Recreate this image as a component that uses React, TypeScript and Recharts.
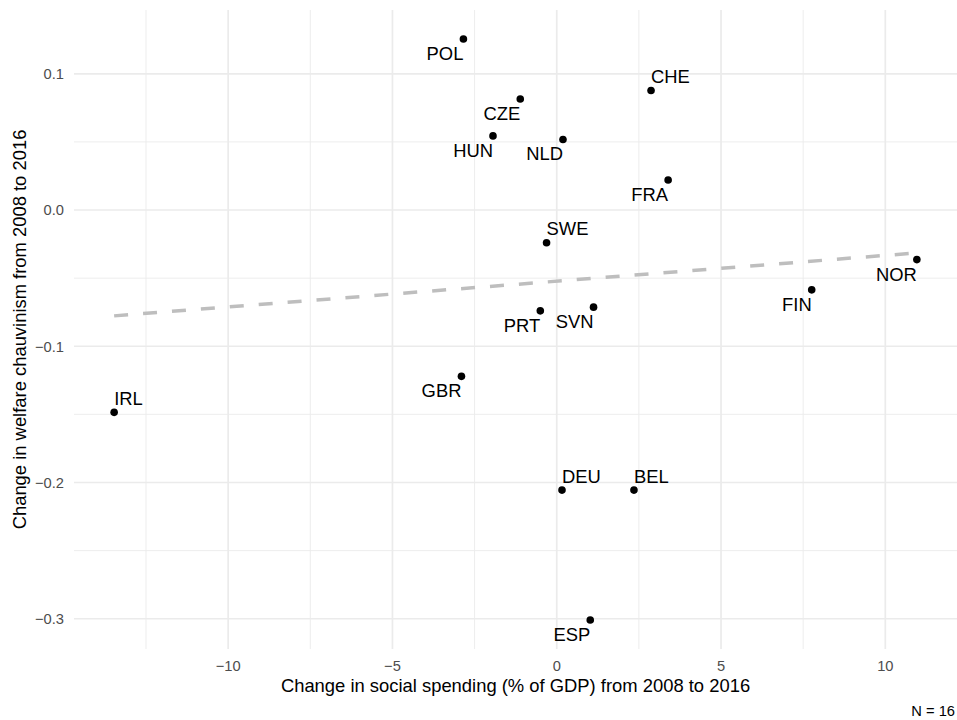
import { ScatterChart, Scatter, XAxis, YAxis, ReferenceLine } from 'recharts';

const countries = ['POL', 'CZE', 'HUN', 'NLD', 'CHE', 'FRA', 'SWE', 'PRT', 'SVN', 'GBR', 'NOR', 'FIN', 'IRL', 'DEU', 'BEL', 'ESP'];
const spendingChange = [-2.84, -1.11, -1.94, 0.19, 2.87, 3.39, -0.31, -0.5, 1.12, -2.9, 10.96, 7.76, -13.47, 0.16, 2.35, 1.02];
const chauvinismChange = [0.1255, 0.0815, 0.0544, 0.0518, 0.0877, 0.022, -0.024, -0.074, -0.0713, -0.1221, -0.0364, -0.0586, -0.1485, -0.2056, -0.2056, -0.3009];
// which side of the dot the country code sits on
const labelSide = ['sw', 'sw', 'sw', 'sw', 'ne', 'sw', 'ne', 'sw', 'sw', 'sw', 'sw', 'sw', 'ne', 'ne', 'ne', 'sw'];

const xTicks = [-10, -5, 0, 5, 10];
const yTicks = [-0.3, -0.2, -0.1, 0, 0.1];
const xMinor = [-12.5, -7.5, -2.5, 2.5, 7.5];
const yMinor = [-0.25, -0.15, -0.05, 0.05];

// linear fit endpoints
const fitStart = { x: -13.47, y: -0.0777 };
const fitEnd = { x: 10.96, y: -0.0315 };

const FONT = '"Liberation Sans", Arial, Helvetica, sans-serif';
const GRID = '#EBEBEB';

const points = countries.map((c, i) => ({
  country: c,
  x: spendingChange[i],
  y: chauvinismChange[i],
  side: labelSide[i],
}));

// ggplot-style 5% expansion
function expand(vals: number[]): [number, number] {
  const lo = Math.min(...vals);
  const hi = Math.max(...vals);
  const pad = (hi - lo) * 0.05;
  return [lo - pad, hi + pad];
}

const xDomain = expand(spendingChange);
const yDomain = expand(chauvinismChange);

const minus = (s: string) => s.replace('-', '\u2212');

function XTick({ x, y, payload }: any) {
  return (
    <text x={x} y={y + 22} textAnchor="middle" fill="#4D4D4D" fontSize={14.7} fontFamily={FONT}>
      {minus(String(payload.value))}
    </text>
  );
}

function YTick({ x, y, payload }: any) {
  return (
    <text x={x - 10} y={y} dy="0.36em" textAnchor="end" fill="#4D4D4D" fontSize={14.7} fontFamily={FONT}>
      {minus(Number(payload.value).toFixed(1))}
    </text>
  );
}

function CountryDot({ cx, cy, payload }: any) {
  const ne = payload.side === 'ne';
  return (
    <g>
      <circle cx={cx} cy={cy} r={3.8} fill="#000" />
      <text
        x={cx}
        y={ne ? cy - 7.5 : cy + 21}
        textAnchor={ne ? 'start' : 'end'}
        fontSize={18.4}
        fontFamily={FONT}
        fill="#000"
      >
        {payload.country}
      </text>
    </g>
  );
}

export default function App() {
  return (
    <div style={{ position: 'absolute', left: 0, top: 0, width: 957, height: 720, background: '#fff' }}>
      <ScatterChart width={957} height={720} margin={{ top: 10, right: 0, bottom: 0, left: 0 }}>
        <XAxis
          type="number"
          dataKey="x"
          domain={xDomain}
          ticks={xTicks}
          allowDataOverflow
          axisLine={false}
          tickLine={false}
          tickSize={0}
          tickMargin={0}
          height={71}
          tick={<XTick />}
        />
        <YAxis
          type="number"
          dataKey="y"
          domain={yDomain}
          ticks={yTicks}
          allowDataOverflow
          axisLine={false}
          tickLine={false}
          tickSize={0}
          tickMargin={0}
          width={74}
          tick={<YTick />}
        />
        {/* minor grid */}
        {xMinor.map((v) => (
          <ReferenceLine key={`xm${v}`} x={v} stroke={GRID} strokeWidth={0.9} />
        ))}
        {yMinor.map((v) => (
          <ReferenceLine key={`ym${v}`} y={v} stroke={GRID} strokeWidth={0.9} />
        ))}
        {/* major grid */}
        {xTicks.map((v) => (
          <ReferenceLine key={`xM${v}`} x={v} stroke={GRID} strokeWidth={1.7} />
        ))}
        {yTicks.map((v) => (
          <ReferenceLine key={`yM${v}`} y={v} stroke={GRID} strokeWidth={1.7} />
        ))}
        <ReferenceLine
          segment={[fitStart, fitEnd]}
          stroke="#BEBEBE"
          strokeWidth={3.5}
          strokeDasharray="14 15"
        />
        <Scatter data={points} shape={<CountryDot />} isAnimationActive={false} />
      </ScatterChart>
      <svg
        width={957}
        height={720}
        style={{ position: 'absolute', left: 0, top: 0, pointerEvents: 'none' }}
        fontFamily={FONT}
      >
        <text x={515.5} y={692} textAnchor="middle" fontSize={18.4} fill="#000">
          Change in social spending (% of GDP) from 2008 to 2016
        </text>
        <text transform="translate(26 329.5) rotate(-90)" textAnchor="middle" fontSize={18.4} fill="#000">
          Change in welfare chauvinism from 2008 to 2016
        </text>
        <text x={955} y={716} textAnchor="end" fontSize={14.7} fill="#000">
          N = 16
        </text>
      </svg>
    </div>
  );
}
